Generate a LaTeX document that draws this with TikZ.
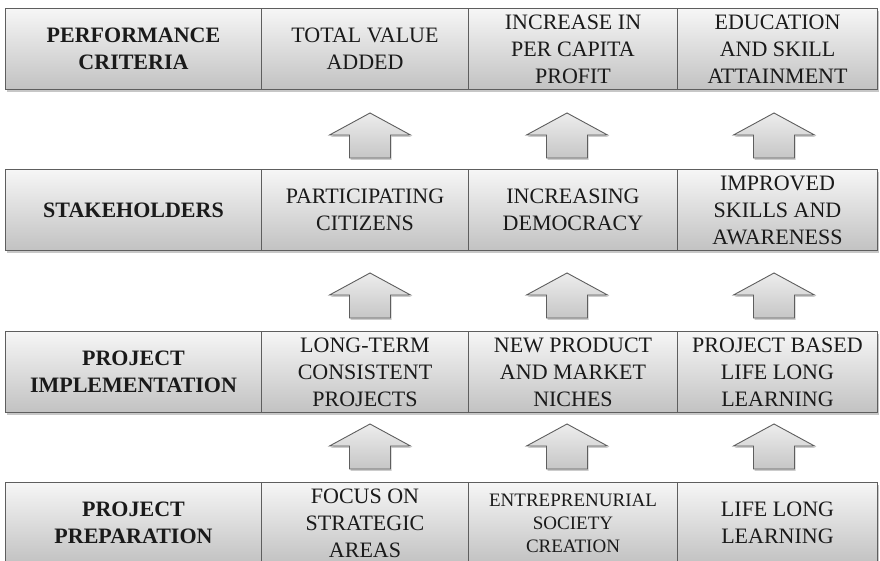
\documentclass[tikz,border=0pt]{standalone}
\usepackage{fontspec}
\setmainfont{Liberation Serif}
\usetikzlibrary{shadows}
\definecolor{boxline}{HTML}{5E5E5E}
\definecolor{boxtop}{HTML}{F6F6F6}
\definecolor{boxbot}{HTML}{C2C2C2}
\definecolor{arrtop}{HTML}{EDEDED}
\definecolor{arrbot}{HTML}{C6C6C6}
\definecolor{txt}{HTML}{1A1A1A}
\tikzset{
  cell/.style={draw=boxline, line width=1pt, top color=boxtop, bottom color=boxbot,
    minimum height=81pt, inner sep=0pt, align=center, text=txt, anchor=north west,
    font=\fontsize{22}{27}\selectfont,
    drop shadow={shadow xshift=1pt, shadow yshift=-3pt, opacity=0.22, fill=black}},
  headcell/.style={cell, font=\fontsize{22}{27}\selectfont\bfseries},
  uparr/.pic={
    \path[draw=boxline, line width=0.9pt, top color=arrtop, bottom color=arrbot,
      line join=miter,
      drop shadow={shadow xshift=1pt, shadow yshift=-2pt, opacity=0.2, fill=black}]
      (0,0) -- (40.5,-22) -- (20.5,-22) -- (20.5,-45) -- (-20.5,-45)
      -- (-20.5,-22) -- (-40.5,-22) -- cycle;
  }
}
\begin{document}
\begin{tikzpicture}[x=1pt,y=1pt]
\fill[white] (0,0) rectangle (880,561);
\useasboundingbox (0,0) rectangle (880,561);
\clip (0,0) rectangle (880,561);

% Row 1: performance criteria
\node[headcell, minimum width=256pt] (h1) at (5,553) {PERFORMANCE\\CRITERIA};
\node[cell, minimum width=207pt] (c12) at (261,553) {TOTAL VALUE\\ADDED};
\node[cell, minimum width=209pt] (c13) at (468,553) {INCREASE IN\\PER CAPITA\\PROFIT};
\node[cell, minimum width=200pt] (c14) at (677,553) {EDUCATION\\AND SKILL\\ATTAINMENT};

% Row 2: stakeholders
\node[headcell, minimum width=256pt] (h2) at (5,392) {STAKEHOLDERS};
\node[cell, minimum width=207pt] (c22) at (261,392) {PARTICIPATING\\CITIZENS};
\node[cell, minimum width=209pt] (c23) at (468,392) {INCREASING\\DEMOCRACY};
\node[cell, minimum width=200pt] (c24) at (677,392) {IMPROVED\\SKILLS AND\\AWARENESS};

% Row 3: project implementation
\node[headcell, minimum width=256pt] (h3) at (5,230) {PROJECT\\IMPLEMENTATION};
\node[cell, minimum width=207pt] (c32) at (261,230) {LONG-TERM\\CONSISTENT\\PROJECTS};
\node[cell, minimum width=209pt] (c33) at (468,230) {NEW PRODUCT\\AND MARKET\\NICHES};
\node[cell, minimum width=200pt] (c34) at (677,230) {PROJECT BASED\\LIFE LONG\\LEARNING};

% Row 4: project preparation
\node[headcell, minimum width=256pt] (h4) at (5,79) {PROJECT\\PREPARATION};
\node[cell, minimum width=207pt] (c42) at (261,79) {FOCUS ON\\STRATEGIC\\AREAS};
\node[cell, minimum width=209pt, font=\fontsize{19}{23}\selectfont] (c43) at (468,79) {ENTREPRENURIAL\\SOCIETY\\CREATION};
\node[cell, minimum width=200pt] (c44) at (677,79) {LIFE LONG\\LEARNING};

% Block arrows
\pic (a12) at (370,448) {uparr};
\pic (a13) at (567,448) {uparr};
\pic (a14) at (774,448) {uparr};
\pic (a22) at (370,288) {uparr};
\pic (a23) at (567,288) {uparr};
\pic (a24) at (774,288) {uparr};
\pic (a32) at (370,137) {uparr};
\pic (a33) at (567,137) {uparr};
\pic (a34) at (774,137) {uparr};
\end{tikzpicture}
\end{document}
